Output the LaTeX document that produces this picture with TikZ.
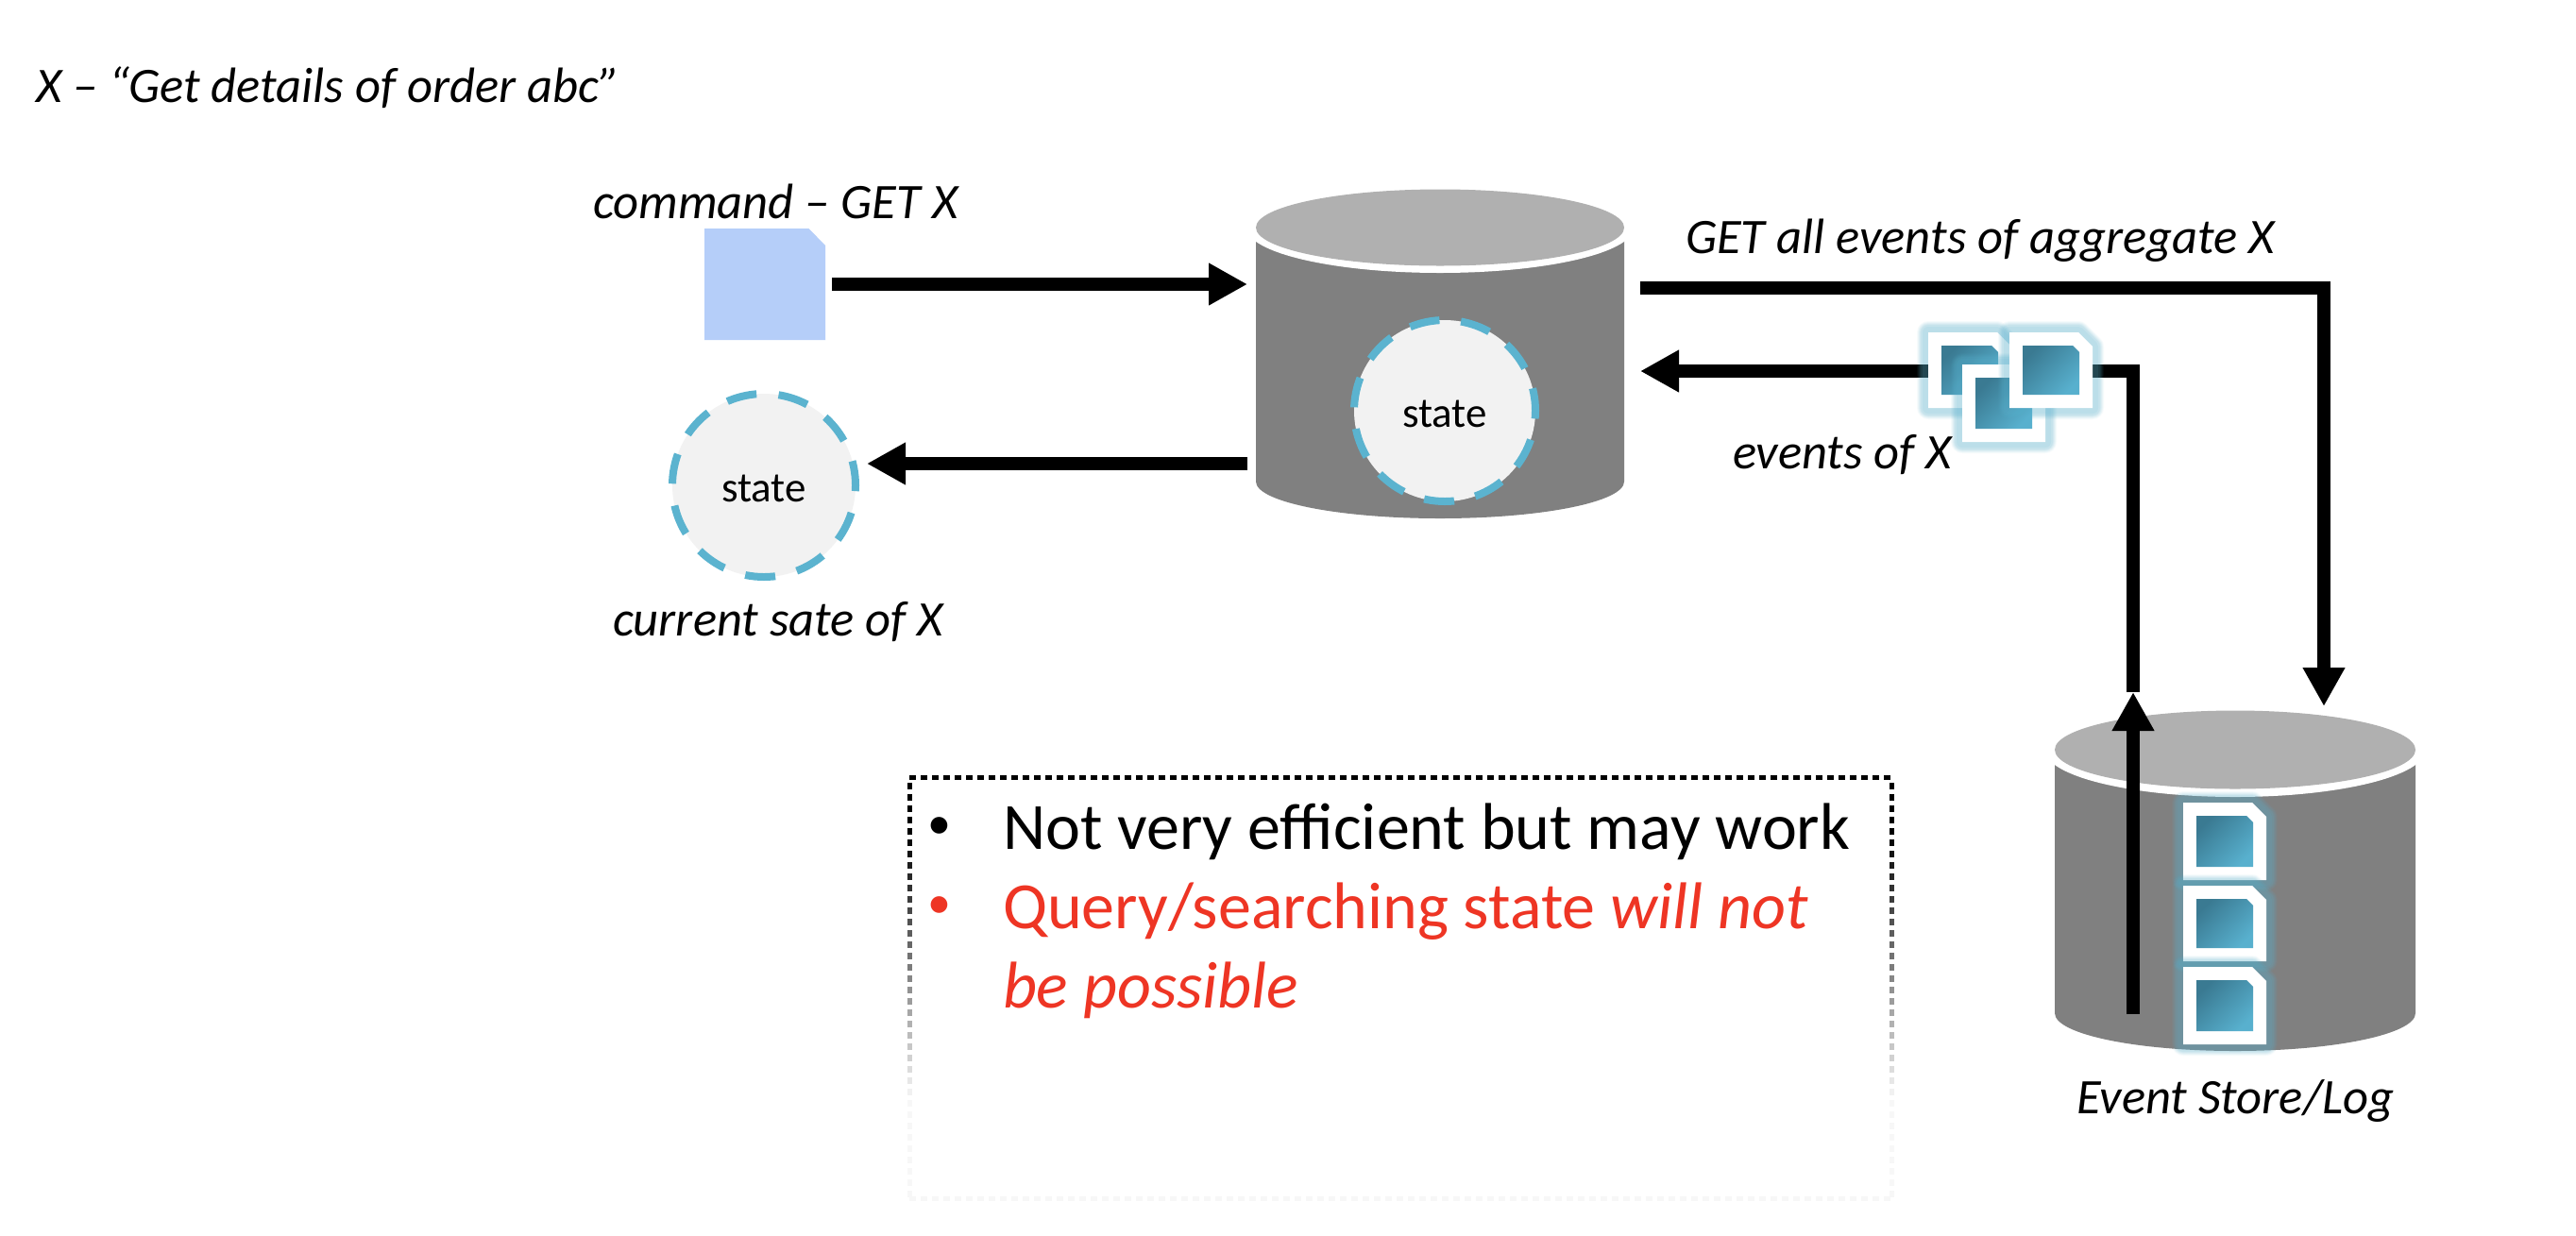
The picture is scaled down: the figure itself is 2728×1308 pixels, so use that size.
\documentclass[tikz,border=0pt]{standalone}
\usepackage{fontspec}
\setmainfont{Carlito}
\usetikzlibrary{arrows.meta}
\definecolor{dbtop}{HTML}{B0B0B0}
\definecolor{dbbody}{HTML}{808080}
\definecolor{dashblue}{HTML}{5BB3CF}
\definecolor{statefill}{HTML}{F2F2F2}
\definecolor{cmdblue}{HTML}{B5CEF9}
\definecolor{docdark}{HTML}{3A7A92}
\definecolor{doclight}{HTML}{58B0CE}
\definecolor{alertred}{HTML}{EE3524}
\tikzset{
  x=0.5pt,y=-0.5pt,
  flow/.style={line width=7pt,line cap=butt,miter limit=10},
  flowtip/.style={flow,-{Triangle[length=20.5pt,width=21pt]}},
  statecirc/.style={circle,draw=dashblue,fill=statefill,line width=4pt,inner sep=0pt,outer sep=0pt},
  lbl/.style={anchor=base west,inner sep=0pt,outer sep=0pt,font=\fontsize{26.3}{30}\selectfont\itshape},
  statelbl/.style={anchor=base,inner sep=0pt,outer sep=0pt,font=\fontsize{22.5}{26}\selectfont},
  bullettxt/.style={anchor=base west,inner sep=0pt,outer sep=0pt,font=\fontsize{35}{40}\selectfont},
  bulletdot/.style={anchor=base west,inner sep=0pt,outer sep=0pt,font=\fontsize{25}{30}\selectfont},
  gloweven/.style={dashblue,line join=round},
}
% cylinder: centre x, half width, lid centre y, lid half height, white half width, white half height, body bottom y, bottom half height
\newcommand{\dbcyl}[8]{%
  \fill[dbbody] ({#1-#2},#3) -- ({#1-#2},#7) arc[start angle=180,end angle=360,x radius=#2*0.5pt,y radius=#8*0.5pt] -- ({#1+#2},#3) -- cycle;
  \fill[white] (#1,#3) ellipse[x radius=#5*0.5pt,y radius=#6*0.5pt];
  \fill[dbtop] (#1,#3) ellipse[x radius=#2*0.5pt,y radius=#4*0.5pt];
}
% event document: left, top, height
\newcommand{\evdoc}[3]{%
  \def\dshape{({#1},{#2}) -- ({#1+73},{#2}) -- ({#1+88},{#2+15}) -- ({#1+88},{#2+#3}) -- ({#1},{#2+#3}) -- cycle}
  \draw[gloweven,line width=12pt,opacity=.05] \dshape;
  \draw[gloweven,line width=11pt,opacity=.07] \dshape;
  \draw[gloweven,line width=10pt,opacity=.08] \dshape;
  \draw[gloweven,line width=9pt,opacity=.09] \dshape;
  \draw[gloweven,line width=8pt,opacity=.10] \dshape;
  \draw[gloweven,line width=6pt,opacity=.10] \dshape;
  \fill[white] \dshape;
  \shade[top color=docdark,bottom color=doclight,shading angle=45]
    ({#1+14},{#2+14}) -- ({#1+67},{#2+14}) -- ({#1+74},{#2+21}) -- ({#1+74},{#2+#3-14}) -- ({#1+14},{#2+#3-14}) -- cycle;
}
\begin{document}
\begin{tikzpicture}
\useasboundingbox (0,0) rectangle (2728,1308);
\fill[white] (0,0) rectangle (2728,1308);

% connector end points
\coordinate (cmdout) at (881,301);
\coordinate (dbin) at (1321,301);
\coordinate (dbout) at (1321,491);
\coordinate (curin) at (918,491);
\coordinate (dbget) at (1737,305);
\coordinate (storein) at (2461,748);
\coordinate (storeout) at (2259,1074);
\coordinate (storemid) at (2259,733);
\coordinate (dbevents) at (1737,393);

% cylinders
\dbcyl{1525}{195}{241}{40.5}{205}{48}{510}{39}
\dbcyl{2367}{191}{794}{41.5}{201.6}{50}{1073}{40}

% command document
\fill[cmdblue] (746,242) -- (856.5,242) -- (874,260) -- (874,360) -- (746,360) -- cycle;

% state circles
\node[statecirc,minimum size=97pt,dash pattern=on 16pt off 11.7pt,dash phase=3pt] (curstate) at (809,514) {};
\node[statecirc,minimum size=96pt,dash pattern=on 16pt off 11.4pt,dash phase=4pt] (dbstate) at (1530,435) {};
\node[statelbl] (curtxt) at (809,531) {state};
\node[statelbl] (dbtxt) at (1530,452) {state};

% store documents
\evdoc{2312}{850}{82}
\evdoc{2312}{938}{80}
\evdoc{2312}{1024}{82}

% connectors
\draw[flowtip] (cmdout) -- (dbin);
\draw[flowtip] (dbout) -- (curin);
\draw[flowtip] (dbget) -| (storein);
\draw[flowtip] (storeout) -- (storemid);
\draw[flowtip] (storemid) |- (dbevents);

% floating event documents
\evdoc{2042}{352}{80}
\evdoc{2078}{386}{82}
\evdoc{2128}{352}{80}

% labels
\node[lbl] (xline) at (38,108) {X – “Get details of order abc”};
\node[lbl] (cmdlbl) at (628,231) {command – GET X};
\node[lbl] (getlbl) at (1785,268) {GET all events of aggregate X};
\node[lbl] (evlbl) at (1835,496) {events of X};
\node[lbl] (curlbl) at (649,673) {current sate of X};
\node[lbl] (storelbl) at (2199,1179) {Event Store/Log};

% notes box, fading downwards
\draw[line width=2.5pt,dash pattern=on 3.5pt off 2.5pt] (963,823) -- (2003,823);
\foreach \yy in {829,841,...,1261}{
  \pgfmathsetmacro\pct{max(3,min(100,100-(\yy-880)/280*97))}
  \draw[line width=2.5pt,black!\pct] (963,\yy) -- (963,\yy+7);
  \draw[line width=2.5pt,black!\pct] (2003,\yy) -- (2003,\yy+7);
}
\draw[line width=2.5pt,black!3,dash pattern=on 3.5pt off 2.5pt] (963,1269) -- (2003,1269);

\node[bulletdot] (b1) at (982,888) {•};
\node[bullettxt] (t1) at (1062,899) {Not very efficient but may work};
\node[bulletdot,text=alertred] (b2) at (982,972) {•};
\node[bullettxt,text=alertred] (t2) at (1062,983) {Query/searching state \textit{will not}};
\node[bullettxt,text=alertred] (t3) at (1062,1067) {\textit{be possible}};
\end{tikzpicture}
\end{document}
